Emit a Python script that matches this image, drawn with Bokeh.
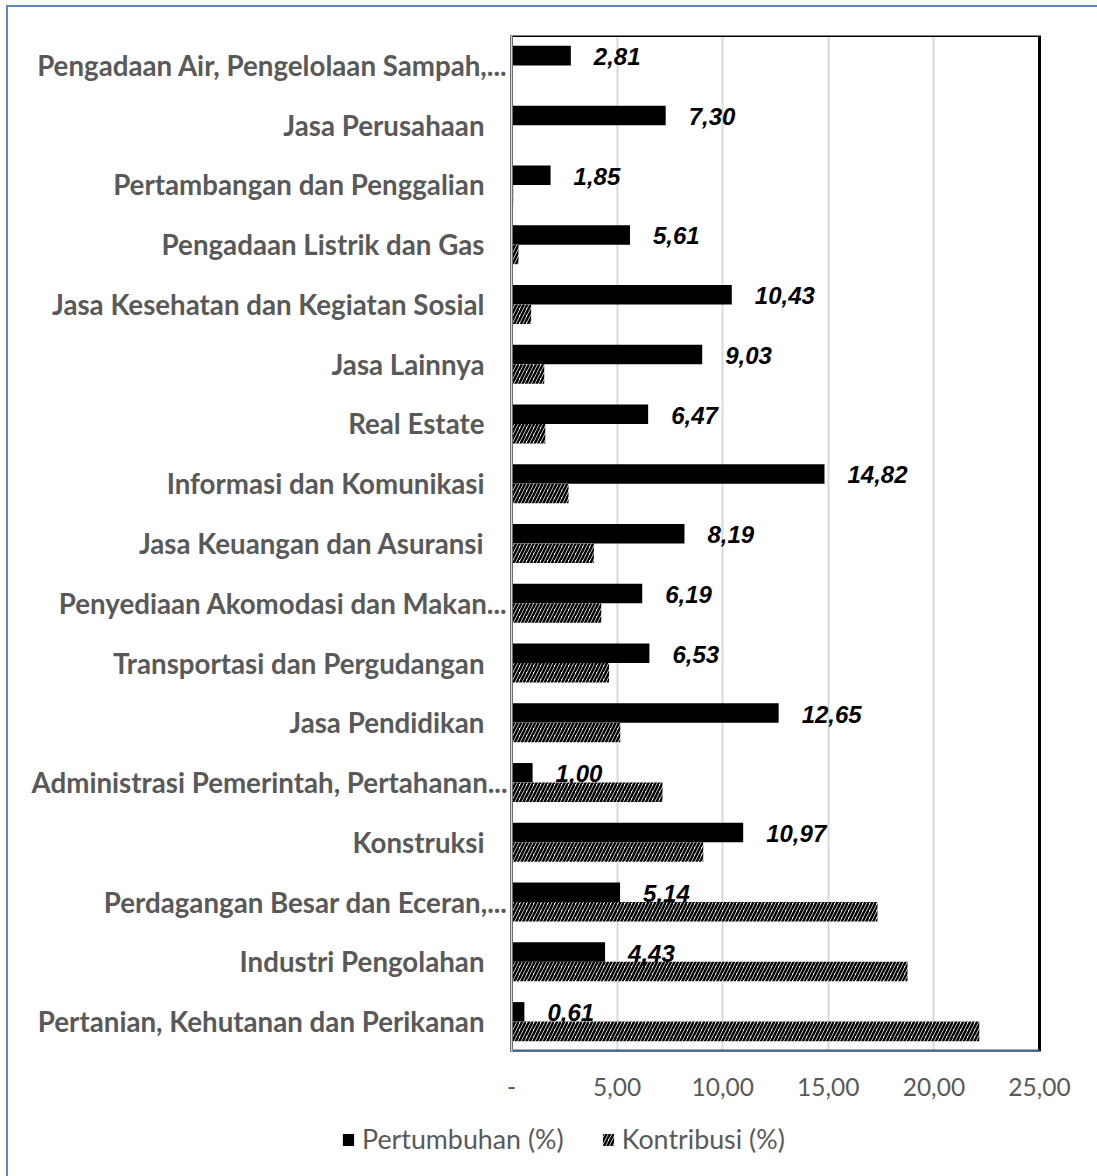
from bokeh.plotting import figure
from bokeh.layouts import column
from bokeh.models import (ColumnDataSource, FactorRange, Range1d, LabelSet, FixedTicker,
                          Span, Legend, LegendItem)
from bokeh.transform import dodge
from bokeh.core.properties import value
from bokeh.embed import file_html
from bokeh.resources import INLINE

# ---- data (top to bottom as shown) ----
categories = [
    "Pengadaan Air, Pengelolaan Sampah,...",
    "Jasa Perusahaan",
    "Pertambangan dan Penggalian",
    "Pengadaan Listrik dan Gas",
    "Jasa Kesehatan dan Kegiatan Sosial",
    "Jasa Lainnya",
    "Real Estate",
    "Informasi dan Komunikasi",
    "Jasa Keuangan dan Asuransi",
    "Penyediaan Akomodasi dan Makan...",
    "Transportasi dan Pergudangan",
    "Jasa Pendidikan",
    "Administrasi Pemerintah, Pertahanan...",
    "Konstruksi",
    "Perdagangan Besar dan Eceran,...",
    "Industri Pengolahan",
    "Pertanian, Kehutanan dan Perikanan",
]
pertumbuhan = [2.81, 7.30, 1.85, 5.61, 10.43, 9.03, 6.47, 14.82, 8.19, 6.19,
               6.53, 12.65, 1.00, 10.97, 5.14, 4.43, 0.61]
kontribusi = [0.03, 0.02, 0.08, 0.33, 0.93, 1.55, 1.60, 2.70, 3.90, 4.25,
              4.62, 5.15, 7.15, 9.08, 17.33, 18.75, 22.15]
x_ticks = [0, 5, 10, 15, 20, 25]
x_tick_labels = ["-", "5,00", "10,00", "15,00", "20,00", "25,00"]
series_names = ["Pertumbuhan (%)", "Kontribusi (%)"]

GRAY = "#595959"
XMAX = 25

# layout (pixels)
W = 1089
H_MAIN, H_LEG = 1098, 71
LEFT_PX = 503          # where x=0 sits inside the figure
PLOT_PX = 528          # pixel width of 0..25
RIGHT_BORDER = 48
ppu = PLOT_PX / XMAX
x_start = -LEFT_PX / ppu
x_end = XMAX + (W - RIGHT_BORDER - LEFT_PX - PLOT_PX) / ppu

src = ColumnDataSource(dict(
    cat=categories,
    pert=pertumbuhan,
    kontr=kontribusi,
    plabel=[f"{v:.2f}".replace(".", ",") for v in pertumbuhan],
    zero=[0] * len(categories),
    catoff=[-4 if c.endswith("...") else -27 for c in categories],
))

p = figure(
    width=W, height=H_MAIN,
    y_range=FactorRange(factors=list(reversed(categories)), range_padding=0),
    x_range=Range1d(x_start, x_end),
    output_backend="svg", toolbar_location=None,
    min_border_left=0, min_border_right=RIGHT_BORDER, min_border_top=28, min_border_bottom=54,
)
p.outline_line_color = None
p.background_fill_color = "white"
p.border_fill_color = "white"

BH = 0.327
bar_black = dict(fill_color="black", line_color=None)
bar_hatch = dict(fill_color="white", line_color=None, hatch_pattern="/",
                 hatch_color="black", hatch_scale=7, hatch_weight=2.5)
p.hbar(y=dodge("cat", 0.163, range=p.y_range), right="pert", left=0, height=BH,
       source=src, **bar_black)
p.hbar(y=dodge("cat", -0.163, range=p.y_range), right="kontr", left=0, height=BH,
       source=src, **bar_hatch)

# plot-area frame: black top/right, gray left, blue bottom
n = len(categories)
p.quad(left=[0], right=[XMAX], bottom=[0], top=[n], fill_color=None,
       line_color="black", line_width=3)
p.segment(x0=[0], x1=[XMAX], y0=[0], y1=[0], line_color="#44628F", line_width=4)
p.add_layout(Span(location=0, dimension="height", line_color="#D9D9D9", line_width=2))

# axes
p.yaxis.visible = False
xa = p.xaxis[0]
xa.ticker = FixedTicker(ticks=x_ticks)
xa.major_label_overrides = {t: l for t, l in zip(x_ticks, x_tick_labels)}
xa.axis_line_color = None
xa.major_tick_line_color = None
xa.minor_tick_line_color = None
xa.major_label_text_font = "Lato"
xa.major_label_text_font_size = "24.5px"
xa.major_label_text_color = GRAY
xa.major_label_standoff = 20

p.ygrid.grid_line_color = None
p.xgrid.grid_line_color = "#D9D9D9"
p.xgrid.grid_line_width = 2

# category labels
p.add_layout(LabelSet(x="zero", y="cat", text="cat", source=src, x_offset="catoff",
                      text_align="right", text_baseline="middle",
                      text_font=value("Lato"), text_font_style="bold", text_font_size="27.7px",
                      text_color=GRAY))

# data labels
p.add_layout(LabelSet(x="pert", y=dodge("cat", 0.163, range=p.y_range), text="plabel",
                      source=src, x_offset=23, y_offset=-1,
                      text_align="left", text_baseline="middle",
                      text_font=value("Arial"), text_font_style="bold italic",
                      text_font_size="24px", text_color="black"))

# legend strip (renderers share the same data and styles, drawn with zero height)
lf = figure(width=W, height=H_LEG, x_range=Range1d(0, XMAX),
            y_range=FactorRange(factors=categories),
            output_backend="svg", toolbar_location=None,
            min_border_left=0, min_border_right=0, min_border_top=0, min_border_bottom=0)
lf.axis.visible = False
lf.grid.visible = False
lf.outline_line_color = None
g1 = lf.hbar(y="cat", right="pert", left=0, height=0, source=src, **bar_black)
g2 = lf.hbar(y="cat", right="kontr", left=0, height=0, source=src, **bar_hatch)
legend = Legend(items=[LegendItem(label=series_names[0], renderers=[g1]),
                       LegendItem(label=series_names[1], renderers=[g2])],
                location=(333, 21), orientation="horizontal",
                border_line_color=None, background_fill_alpha=0,
                padding=0, margin=0, spacing=37, label_height=28,
                glyph_width=14, glyph_height=15, label_standoff=7,
                label_text_font="Lato", label_text_font_size="26.8px",
                label_text_color=GRAY, label_text_baseline="middle")
lf.add_layout(legend)

layout = column(p, lf, spacing=0,
                styles={"margin-left": "6px", "margin-top": "5px",
                        "border-left": "2px solid #5A89C6", "border-top": "2px solid #5A89C6"})

open("out.html", "w").write(file_html(layout, INLINE))
